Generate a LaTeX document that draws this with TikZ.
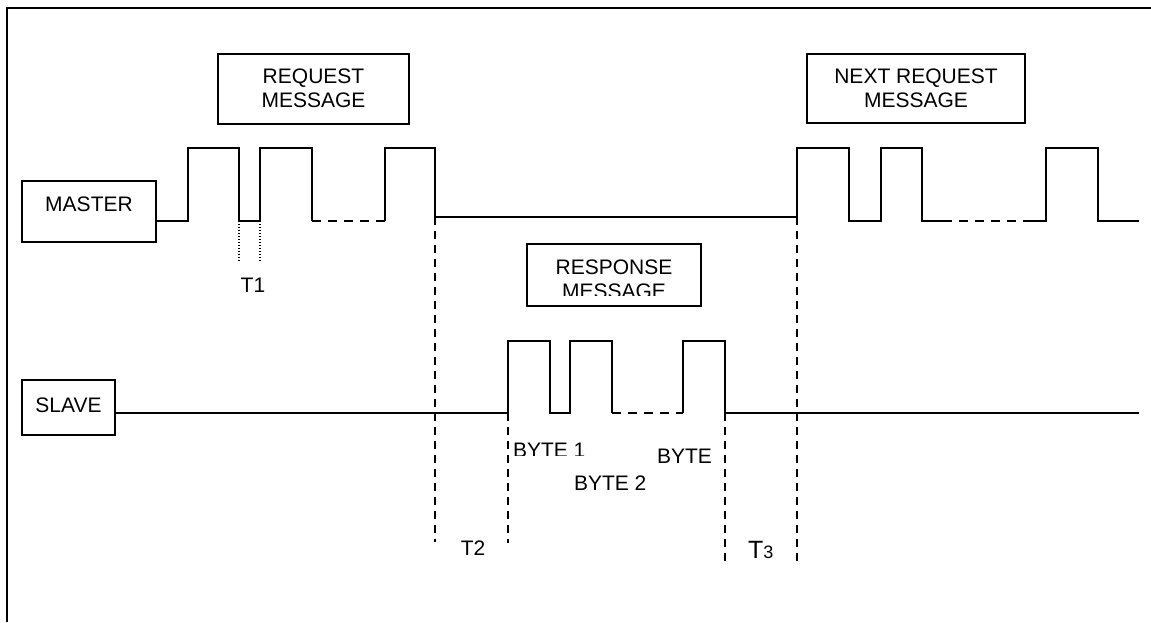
\documentclass[tikz,border=0pt]{standalone}
\usepackage{fontspec}
\setmainfont{Liberation Sans}
\begin{document}
\begin{tikzpicture}[x=1pt,y=-1pt,
  every node/.style={inner sep=0pt,outer sep=0pt,font=\fontsize{21}{24}\selectfont},
  box/.style={draw,line width=1.8pt,anchor=north west},
  sig/.style={line width=1.8pt,line join=miter},
  dsig/.style={line width=1.8pt,dash pattern=on 9pt off 7pt},
  vdash/.style={line width=1.8pt,dash pattern=on 8pt off 6pt},
  dotl/.style={line width=1.2pt,dash pattern=on 1.2pt off 1.8pt},
  lbl/.style={anchor=base}]
\useasboundingbox (0,0) rectangle (1151,622);
% frame
\draw[line width=2.2pt] (7,622) -- (7,8) -- (1151,8);
% boxes
\node[box,minimum width=134pt,minimum height=61pt] (master) at (22,181) {};
\node[box,minimum width=93pt,minimum height=55pt] (slave) at (22,380) {};
\node[box,minimum width=191pt,minimum height=70pt] (req) at (218,54) {};
\node[box,minimum width=218pt,minimum height=69pt] (nreq) at (807,54) {};
\node[box,minimum width=174pt,minimum height=62pt] (resp) at (527,244) {};
% box texts
\node[lbl] (tmaster) at (89,211) {MASTER};
\node[lbl] (tslave) at (68.5,412) {SLAVE};
\node[lbl] (treq1) at (313.5,83) {REQUEST};
\node[lbl] (treq2) at (313.5,107) {MESSAGE};
\node[lbl] (tnreq1) at (916,83) {NEXT REQUEST};
\node[lbl] (tnreq2) at (916,107) {MESSAGE};
\node[lbl] (tresp1) at (614,274) {RESPONSE};
\begin{scope}
  \clip (527,280) rectangle (701,295);
  \node[lbl] (tresp2) at (614,298) {MESSAGE};
\end{scope}
% master waveform
\coordinate (m0) at (master.east |- 0,221);
\draw[sig] (m0) -- (188,221) -- (188,148) -- (239,148) -- (239,221) -- (260,221)
  -- (260,148) -- (312,148) -- (312,221);
\draw[dsig] (312,221) -- (385,221);
\draw[sig] (385,221) -- (385,148) -- (435,148) -- (435,217) -- (797,217)
  -- (797,148) -- (849,148) -- (849,221) -- (881,221) -- (881,148) -- (922,148)
  -- (922,221) -- (943,221);
\draw[dsig] (943,221) -- (1028,221);
\draw[sig] (1028,221) -- (1046,221) -- (1046,148) -- (1098,148) -- (1098,221) -- (1139,221);
% slave waveform
\coordinate (s0) at (slave.east |- 0,413);
\draw[sig] (s0) -- (508,413) -- (508,341) -- (550,341) -- (550,413) -- (570,413)
  -- (570,341) -- (612,341) -- (612,413);
\draw[dsig] (612,413) -- (683,413);
\draw[sig] (683,413) -- (683,341) -- (725,341) -- (725,413) -- (1139,413);
% T1 dotted
\draw[dotl] (239,221) -- (239,261);
\draw[dotl] (260,221) -- (260,261);
\node[lbl] (t1) at (253,292) {T1};
% vertical dashed
\draw[vdash] (435,217) -- (435,542);
\draw[vdash] (508,413) -- (508,543);
\draw[vdash] (725,413) -- (725,562);
\draw[vdash] (797,217) -- (797,562);
% labels
\begin{scope}
  \clip (505,430) rectangle (600,455);
  \node[anchor=base west] (b1) at (513,457) {BYTE 1};
\end{scope}
\node[anchor=base west] (b2) at (574,490) {BYTE 2};
\node[anchor=base west] (b3) at (657,463) {BYTE};
\node[lbl] (t2) at (473,555) {T2};
\node[anchor=base west] (t3) at (748,558) {\fontsize{25}{28}\selectfont T\fontsize{18}{20}\selectfont 3};
\end{tikzpicture}
\end{document}
